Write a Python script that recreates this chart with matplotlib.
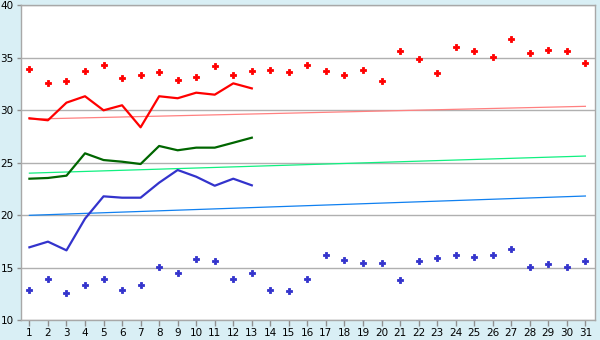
import numpy as np
import matplotlib
matplotlib.use('Agg')
import matplotlib.pyplot as plt

# ---------------- data ----------------
days = list(range(1, 32))

red_dots = [33.9, 32.56, 32.78, 33.7, 34.28, 33.04, 33.32, 33.61, 32.85, 33.17,
            34.21, 33.36, 33.7, 33.8, 33.6, 34.3, 33.7, 33.32, 33.8, 32.78,
            35.64, 34.85, 33.5, 36.0, 35.6, 35.04, 36.76, 35.42, 35.71, 35.61, 34.47]
blue_dots = [12.83, 13.88, 12.54, 13.3, 13.88, 12.83, 13.3, 15.02, 14.45, 15.79,
             15.6, 13.88, 14.45, 12.83, 12.73, 13.88, 16.17, 15.69, 15.4, 15.4,
             13.78, 15.6, 15.88, 16.17, 15.98, 16.17, 16.74, 15.02, 15.31, 15.02, 15.6]

line_days = list(range(1, 14))
red_line = [29.23, 29.04, 30.72, 31.33, 29.99, 30.47, 28.37, 31.33, 31.14, 31.67, 31.48, 32.56, 32.08]
green_line = [23.47, 23.54, 23.76, 25.89, 25.25, 25.09, 24.87, 26.59, 26.18, 26.43, 26.43, 26.9, 27.38]
blue_line = [16.93, 17.47, 16.64, 19.66, 21.79, 21.66, 21.66, 23.09, 24.3, 23.66, 22.8, 23.47, 22.84]

trend_days = [1, 31]
red_trend = [29.15, 30.37]
green_trend = [24.0, 25.63]
blue_trend = [19.98, 21.82]

# ---------------- figure ----------------
fig = plt.figure(figsize=(6, 3.4), dpi=100)
fig.patch.set_facecolor('#d9eff5')
ax = fig.add_axes([0.0345, 0.0588, 0.9572, 0.9256])
ax.set_facecolor('white')

ax.set_xlim(0.53, 31.52)
ax.set_ylim(10, 40)
ax.set_yticks([10, 15, 20, 25, 30, 35, 40])
ax.set_xticks(days)
ax.grid(axis='y', color='#b0b0b0', lw=1.0)
ax.set_axisbelow(True)

for s in ax.spines.values():
    s.set_color('#a8a8a8')
    s.set_linewidth(1.0)
ax.tick_params(axis='both', colors='#909090', labelcolor='black', labelsize=7.5,
               length=3, width=1, pad=2)
ax.tick_params(axis='x', length=4, pad=2)

# trend lines
ax.plot(trend_days, red_trend, color='#ff8080', lw=0.9, zorder=2)
ax.plot(trend_days, green_trend, color='#10f080', lw=0.9, zorder=2)
ax.plot(trend_days, blue_trend, color='#1080f0', lw=0.9, zorder=2)

# daily lines
ax.plot(line_days, red_line, color='#ff0000', lw=1.6, zorder=3)
ax.plot(line_days, green_line, color='#006600', lw=1.6, zorder=3)
ax.plot(line_days, blue_line, color='#3333cc', lw=1.6, zorder=3)

# extremes
ax.plot(days, red_dots, ls='none', marker='P', color='#ff0000', ms=4.2, mew=0.6, zorder=4)
ax.plot(days, blue_dots, ls='none', marker='P', color='#3333cc', ms=4.2, mew=0.6, zorder=4)

fig.savefig('out.png', dpi=100, facecolor=fig.get_facecolor())
